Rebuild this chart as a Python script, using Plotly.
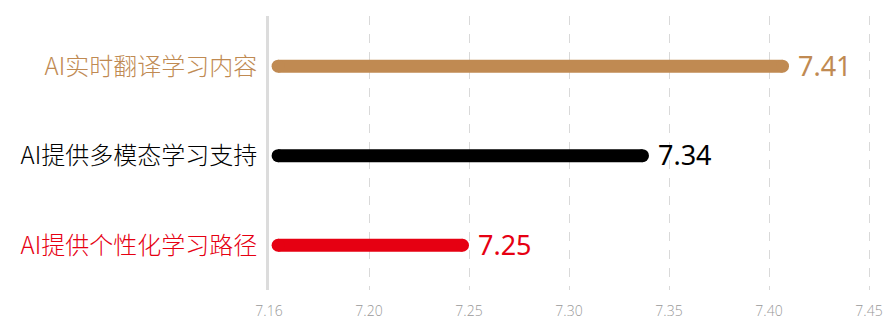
import plotly.graph_objects as go

# Survey items (bottom to top) and their mean scores
categories = ["AI提供个性化学习路径", "AI提供多模态学习支持", "AI实时翻译学习内容"]
scores = [7.25, 7.34, 7.41]
colors = ["#E60012", "#000000", "#C08A52"]

x_tickvals = [7.15, 7.20, 7.25, 7.30, 7.35, 7.40, 7.45]
x_ticktext = ["7.16", "7.20", "7.25", "7.30", "7.35", "7.40", "7.45"]

X_MIN, X_MAX = 7.15, 7.453
BAR_W = 13           # bar thickness in px
PX_PER_UNIT = 2000   # horizontal scale of the plot area
cap = (BAR_W / 2) / PX_PER_UNIT

fig = go.Figure()
for i, (cat, val, col) in enumerate(zip(categories, scores, colors)):
    xs = [X_MIN + cap * 1.4, val - cap]
    fig.add_trace(go.Scatter(
        x=xs, y=[i, i], mode="lines+markers",
        line=dict(color=col, width=BAR_W),
        marker=dict(color=col, size=BAR_W, line=dict(width=0)),
        hoverinfo="skip", showlegend=False,
    ))
    fig.add_annotation(
        x=val, y=i, text=f"{val:.2f}", showarrow=False,
        xanchor="left", yanchor="middle", xshift=7, yshift=1,
        font=dict(family="Noto Sans, Open Sans, sans-serif", size=27,
                  color=col, weight=400),
    )

ticktext_y = [f"<span style='color:{c}'>{t}</span>" for t, c in zip(categories, colors)]

fig.update_layout(
    width=885, height=320,
    margin=dict(l=269, r=10, t=16, b=30),
    plot_bgcolor="white", paper_bgcolor="white",
    font=dict(family="Noto Sans CJK SC, Noto Sans, sans-serif"),
    xaxis=dict(
        range=[X_MIN, X_MAX], tickvals=x_tickvals, ticktext=x_ticktext,
        showgrid=True, gridcolor="#d9d9d9", griddash="dash", gridwidth=1,
        zeroline=False, showline=False, ticks="", automargin=False,
        tickfont=dict(family="Open Sans, sans-serif", size=14,
                      color="#999999", weight=300),
        ticklabelstandoff=11,
    ),
    yaxis=dict(
        range=[-0.5, 2.56], tickvals=[0, 1, 2], ticktext=ticktext_y,
        showgrid=False, zeroline=False, automargin=False,
        showline=True, linecolor="#dcdcdc", linewidth=3,
        ticks="", ticklabelstandoff=4,
        tickfont=dict(family="Noto Sans CJK SC, sans-serif", size=24, weight=300),
    ),
)

fig.write_html("out.html")
